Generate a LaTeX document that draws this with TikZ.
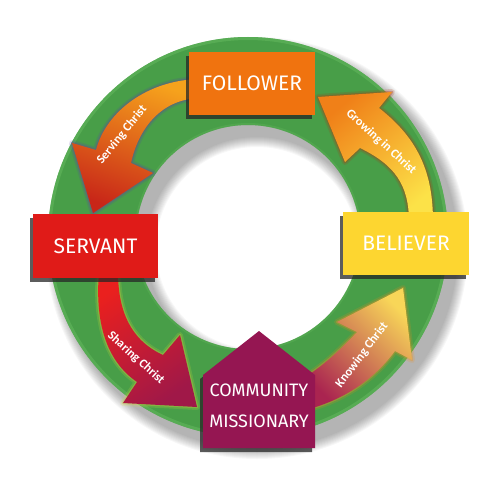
\documentclass[tikz,border=0pt]{standalone}
\usepackage{fontspec}
\setmainfont{Fira Sans}
\newfontfamily\lblfont{Carlito}
\usetikzlibrary{shadows}
\definecolor{ringgreen}{RGB}{72,158,72}
\definecolor{ringlight}{RGB}{98,182,92}
\definecolor{folOrange}{RGB}{240,115,15}
\definecolor{serRed}{RGB}{224,27,24}
\definecolor{belYellow}{RGB}{253,214,48}
\definecolor{comMaroon}{RGB}{149,22,82}
\tikzset{
  boxlabel/.style={text=white, font=\fontsize{21}{23}\selectfont},
  arrowlabel/.style={text=white, inner sep=0pt, font=\lblfont\bfseries\fontsize{12.5}{14}\selectfont},
  boxshadow/.style={drop shadow={shadow xshift=-3pt, shadow yshift=-4pt, opacity=.75, fill=black!85}},
  stagebox/.style={boxshadow, minimum width=126pt, minimum height=63pt, inner sep=0pt, boxlabel},
  glowwide/.style={line width=6pt, opacity=.18, line join=round},
  glownarrow/.style={line width=2.5pt, opacity=.35, line join=round},
}
\begin{document}
\begin{tikzpicture}[x=1pt,y=-1pt]
\useasboundingbox (0,0) rectangle (497,487);
% ring shadow
\foreach \i in {0,...,10}{
  \fill[black, opacity=0.03, even odd rule] (257,248) circle[radius={(201+\i)*1pt}] (257,248) circle[radius={(111-\i)*1pt}];
}
% ring
\fill[ringgreen, even odd rule] (248,237) circle[radius=200pt] (248,237) circle[radius=112pt];
\draw[ringlight, line width=3pt, opacity=.6] (248,237) circle[radius=198.5pt];
\draw[ringlight, line width=2pt, opacity=.35] (248,237) circle[radius=113pt];

% arrow paths
\def\arrowServing{(200,79) .. controls (147,80) and (106,112) .. (96,150) -- (72,143) -- (93,213) -- (153,173) -- (131,163) .. controls (138,130) and (160,99) .. (200,98) -- cycle}
\def\arrowGrowing{(433,222) .. controls (433,175) and (420,140) .. (379,108) -- (392,92) -- (318,97) -- (345,162) -- (360,148) .. controls (395,165) and (409,185) .. (409,222) -- cycle}
\def\arrowSharing{(99,272) .. controls (95,320) and (105,360) .. (137,382) -- (123,403) -- (197,407) -- (180,335) -- (163,355) .. controls (130,340) and (118,310) .. (118,272) -- cycle}
\def\arrowKnowing{(305,377) .. controls (325,365) and (345,345) .. (357,332) -- (337,322) -- (403,288) -- (412,360) -- (395,351) .. controls (375,378) and (345,400) .. (305,410) -- cycle}

% Serving Christ
\draw[glowwide, draw={rgb,255:red,90;green,60;blue,170}] \arrowServing;
\draw[glownarrow, draw={rgb,255:red,110;green,60;blue,160}] \arrowServing;
\shade[top color={rgb,255:red,246;green,162;blue,28}, bottom color={rgb,255:red,200;green,38;blue,24}, shading angle=-20] \arrowServing;
% Growing in Christ
\draw[glowwide, draw={rgb,255:red,170;green,50;blue,20}] \arrowGrowing;
\draw[glownarrow, draw={rgb,255:red,180;green,60;blue,20}] \arrowGrowing;
\shade[top color={rgb,255:red,240;green,128;blue,24}, bottom color={rgb,255:red,252;green,226;blue,72}, shading angle=40] \arrowGrowing;
% Sharing Christ
\draw[glowwide, draw={rgb,255:red,210;green,220;blue,60}] \arrowSharing;
\draw[glownarrow, draw={rgb,255:red,200;green,200;blue,60}] \arrowSharing;
\shade[top color={rgb,255:red,234;green,32;blue,30}, bottom color={rgb,255:red,160;green,24;blue,72}, shading angle=35] \arrowSharing;
% Knowing Christ
\draw[glowwide, draw={rgb,255:red,235;green,140;blue,30}] \arrowKnowing;
\draw[glownarrow, draw={rgb,255:red,230;green,150;blue,40}] \arrowKnowing;
\shade[top color={rgb,255:red,248;green,214;blue,88}, bottom color={rgb,255:red,170;green,36;blue,80}, shading angle=-45] \arrowKnowing;

% arrow labels
\node[arrowlabel, rotate=51] (servingtxt) at (122,135) {Serving Christ};
\node[arrowlabel, rotate=-42] (growingtxt) at (381,142) {Growing in Christ};
\node[arrowlabel, rotate=-42] (sharingtxt) at (136,358) {Sharing Christ};
\node[arrowlabel, rotate=53] (knowingtxt) at (362,355) {Knowing Christ};

% boxes
\node[stagebox, fill=folOrange] (follower) at (252,83.5) {FOLLOWER};
\node[stagebox, fill=serRed, minimum width=125pt, minimum height=64pt] (servant) at (95.5,246) {SERVANT};
\node[stagebox, fill=belYellow] (believer) at (406,243.5) {BELIEVER};
\fill[comMaroon, boxshadow] (203,375) -- (259,331) -- (315,375) -- (315,448) -- (203,448) -- cycle;
\node[text=white, align=center, font=\fontsize{18}{31}\selectfont, inner sep=0pt] (community) at (259,406) {COMMUNITY\\MISSIONARY};
\end{tikzpicture}
\end{document}
